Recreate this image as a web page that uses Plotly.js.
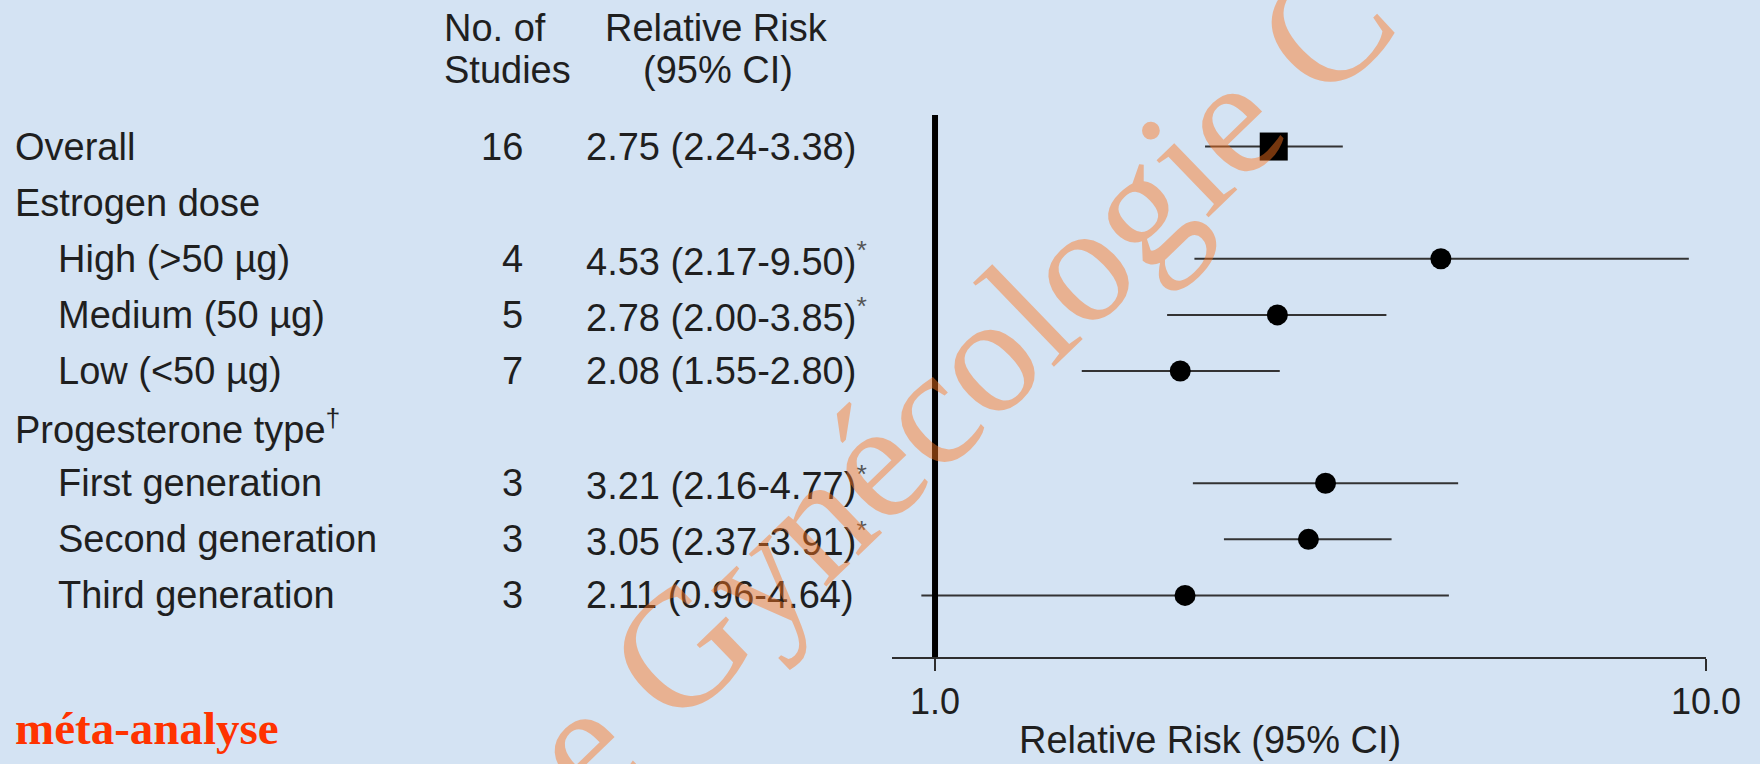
<!DOCTYPE html>
<html>
<head>
<meta charset="utf-8">
<script src="https://cdn.plot.ly/plotly-3.0.1.min.js"></script>
<style>
  html, body { margin: 0; padding: 0; background: #d4e3f3; }
  #chart { width: 1760px; height: 764px; }
</style>
</head>
<body>
<div id="chart"></div>
<script>
// Forest plot: oral contraceptives and venous thrombosis risk by subgroup
const rowLabels = [
  'Overall',
  'Estrogen dose',
  'High (>50 µg)',
  'Medium (50 µg)',
  'Low (<50 µg)',
  'Progesterone type<sup>†</sup>',
  'First generation',
  'Second generation',
  'Third generation'
];
const isSubRow = [false, false, true, true, true, false, true, true, true];
const nStudies = [16, null, 4, 5, 7, null, 3, 3, 3];
const relRisk  = [2.75, null, 4.53, 2.78, 2.08, null, 3.21, 3.05, 2.11];
const ciLow    = [2.24, null, 2.17, 2.00, 1.55, null, 2.16, 2.37, 0.96];
const ciHigh   = [3.38, null, 9.50, 3.85, 2.80, null, 4.77, 3.91, 4.64];
const flagged  = [false, null, true, true, false, null, true, true, false];
const xTickVals = [1, 10];
const xTickText = ['1.0', '10.0'];
const xAxisTitle = 'Relative Risk (95% CI)';

// page geometry (pixels)
const W = 1760, H = 764;
const M = { l: 0, r: 54, t: 115, b: 107 };
const plotW = W - M.l - M.r;
const plotH = H - M.t - M.b;
const xp = px => (px - M.l) / plotW;          // pixel -> paper x
const yp = py => (H - M.b - py) / plotH;      // pixel -> paper y

const TEXT = '#1f1f1f';
const FONT = 'Liberation Sans, Arial, Helvetica, sans-serif';
const FS = 38;

// marker traces: the pooled estimate as a square, subgroups as dots
function pick(filterFn) {
  const xs = [], ys = [], up = [], down = [];
  relRisk.forEach((v, i) => {
    if (v === null || !filterFn(i)) return;
    xs.push(v); ys.push(i);
    up.push(ciHigh[i] - v); down.push(v - ciLow[i]);
  });
  return { xs, ys, up, down };
}
const pooled = pick(i => i === 0);
const groups = pick(i => i !== 0);

const errStyle = { type: 'data', symmetric: false, color: '#333333', thickness: 2, width: 0 };

const traces = [
  {
    type: 'scatter', mode: 'markers', x: groups.xs, y: groups.ys,
    marker: { symbol: 'circle', size: 21, color: '#000' },
    error_x: Object.assign({ array: groups.up, arrayminus: groups.down }, errStyle),
    hoverinfo: 'x', showlegend: false
  },
  {
    type: 'scatter', mode: 'markers', x: pooled.xs, y: pooled.ys,
    marker: { symbol: 'square', size: 28, color: '#000' },
    error_x: Object.assign({ array: pooled.up, arrayminus: pooled.down }, errStyle),
    hoverinfo: 'x', showlegend: false
  }
];

const annotations = [];
const txt = (x, y, text, opts) => annotations.push(Object.assign({
  x, y, text, showarrow: false, xref: 'paper', yref: 'y',
  xanchor: 'left', yanchor: 'middle',
  font: { family: FONT, size: FS, color: TEXT }
}, opts || {}));

// table columns
rowLabels.forEach((lab, i) => {
  txt(xp(isSubRow[i] ? 56 : 13), i, lab);
  if (nStudies[i] !== null) {
    txt(xp(525), i, String(nStudies[i]), { xanchor: 'right' });
  }
  if (relRisk[i] !== null) {
    let s = relRisk[i].toFixed(2) + ' (' + ciLow[i].toFixed(2) + '-' + ciHigh[i].toFixed(2) + ')';
    if (flagged[i]) s += '<span style="color:#555"><sup>*</sup></span>';
    txt(xp(584), i, s);
  }
});

// column headers and axis caption
const label = (x, y, text, anchor, font) => annotations.push({
  x: xp(x), y: yp(y), xref: 'paper', yref: 'paper', text, showarrow: false,
  xanchor: anchor, yanchor: 'middle',
  font: font || { family: FONT, size: FS, color: TEXT }
});
label(442, 28, 'No. of', 'left');
label(442, 70, 'Studies', 'left');
label(716, 28, 'Relative Risk', 'center');
label(718, 70, '(95% CI)', 'center');
label(1210, 740, xAxisTitle, 'center');

// slide caption
label(13, 728, '<b>méta-analyse</b>', 'left',
  { family: 'Liberation Serif, Times New Roman, serif', size: 47, color: '#ff3300' });

// diagonal watermark
annotations.push({
  x: xp(958), y: yp(380), xref: 'paper', yref: 'paper', showarrow: false,
  xanchor: 'center', yanchor: 'middle', textangle: -44,
  text: 'e Gynécologie C',
  font: { family: 'Liberation Serif, Times New Roman, serif', size: 168, color: 'rgba(255,118,30,0.46)' }
});

const layout = {
  width: W, height: H,
  margin: M,
  paper_bgcolor: '#d4e3f3',
  plot_bgcolor: 'rgba(0,0,0,0)',
  showlegend: false,
  xaxis: {
    type: 'log',
    domain: [xp(892), 1],
    range: [-0.0558, 1],
    tickvals: xTickVals, ticktext: xTickText,
    ticks: 'outside', ticklen: 12, tickwidth: 2, tickcolor: '#2e2e2e',
    showline: true, linewidth: 2, linecolor: '#2e2e2e',
    showgrid: false, zeroline: false,
    tickfont: { family: FONT, size: 36, color: TEXT }
  },
  yaxis: {
    range: [9.097, -0.562],
    showline: false, showgrid: false, zeroline: false,
    showticklabels: false, ticks: ''
  },
  shapes: [
    { type: 'line', xref: 'x', yref: 'paper', x0: 1, x1: 1, y0: 0, y1: 1,
      line: { color: '#000', width: 6 } }
  ],
  annotations
};

Plotly.newPlot('chart', traces, layout, { staticPlot: true, displayModeBar: false });
</script>
</body>
</html>
